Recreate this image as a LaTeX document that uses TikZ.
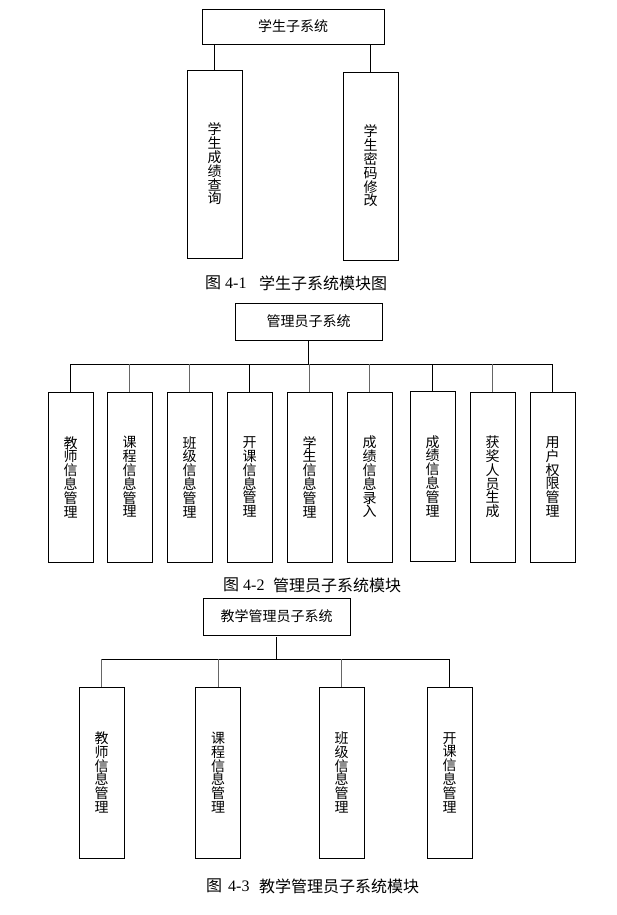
\documentclass[tikz,border=0pt]{standalone}
\usepackage{fontspec}
\newfontfamily\cjk{Noto Sans CJK SC}
\newfontfamily\capnum{Liberation Serif}
\begin{document}
\begin{tikzpicture}[x=1pt,y=-1pt,
  box/.style={draw, line width=0.8pt, inner sep=0pt, align=center,
    font=\cjk\fontsize{14}{13.8}\selectfont},
  vbox/.style={box, minimum width=45pt, minimum height=170pt},
  conn/.style={line width=0.8pt},
  gconn/.style={line width=0.8pt, draw=black!60},
  capcjk/.style={inner sep=0pt, anchor=west, font=\cjk\fontsize{16}{16}\selectfont},
  capnum/.style={inner sep=0pt, anchor=west, font=\capnum\fontsize{16}{16}\selectfont}]
\useasboundingbox (0,0) rectangle (617,915);

% ---------- Diagram 4-1 ----------
\node[box, minimum width=182pt, minimum height=35pt] (t1) at (293,26.5) {学生子系统};
\node[box, minimum width=55pt, minimum height=188pt] (l1) at (214.5,164) {学\\生\\成\\绩\\查\\询};
\node[box, minimum width=55pt, minimum height=188pt] (r1) at (370.5,166) {学\\生\\密\\码\\修\\改};
\draw[conn] (l1.north) -- (l1.north |- t1.south);
\draw[conn] (r1.north) -- (r1.north |- t1.south);
\node[capcjk] (c1a) at (205,283) {图};
\node[capnum] (c1b) at (225,283) {4-1};
\node[capcjk] (c1c) at (259,283) {学生子系统模块图};

% ---------- Diagram 4-2 ----------
\node[box, minimum width=147pt, minimum height=37pt] (t2) at (308.5,321.5) {管理员子系统};
\coordinate (bar2) at (0,364);
\node[vbox] (a1) at (70.5,477) {教\\师\\信\\息\\管\\理};
\node[vbox] (a2) at (129.5,477) {课\\程\\信\\息\\管\\理};
\node[vbox] (a3) at (189.5,477) {班\\级\\信\\息\\管\\理};
\node[vbox] (a4) at (249.5,477) {开\\课\\信\\息\\管\\理};
\node[vbox] (a5) at (309.5,477) {学\\生\\信\\息\\管\\理};
\node[vbox] (a6) at (369.5,477) {成\\绩\\信\\息\\录\\入};
\node[vbox] (a7) at (432.5,476) {成\\绩\\信\\息\\管\\理};
\node[vbox] (a8) at (492.5,477) {获\\奖\\人\\员\\生\\成};
\node[vbox] (a9) at (552.5,477) {用\\户\\权\\限\\管\\理};
\draw[conn] (t2.south) -- (t2.south |- bar2);
\draw[conn] (a1.north |- bar2) -- (a9.north |- bar2);
\draw[conn] (a1.north) -- (a1.north |- bar2);
\draw[gconn] (a2.north) -- (a2.north |- bar2);
\draw[gconn] (a3.north) -- (a3.north |- bar2);
\draw[conn] (a4.north) -- (a4.north |- bar2);
\draw[gconn] (a5.north) -- (a5.north |- bar2);
\draw[gconn] (a6.north) -- (a6.north |- bar2);
\draw[conn] (a7.north) -- (a7.north |- bar2);
\draw[gconn] (a8.north) -- (a8.north |- bar2);
\draw[conn] (a9.north) -- (a9.north |- bar2);
\node[capcjk] (c2a) at (223,585) {图};
\node[capnum] (c2b) at (243,585) {4-2};
\node[capcjk] (c2c) at (273,585) {管理员子系统模块};

% ---------- Diagram 4-3 ----------
\node[box, minimum width=147pt, minimum height=37pt] (t3) at (276.5,616.5) {教学管理员子系统};
\coordinate (bar3) at (0,659);
\node[box, minimum width=45pt, minimum height=171pt] (b1) at (101.5,772.5) {教\\师\\信\\息\\管\\理};
\node[box, minimum width=45pt, minimum height=171pt] (b2) at (218,772.5) {课\\程\\信\\息\\管\\理};
\node[box, minimum width=45pt, minimum height=171pt] (b3) at (341.5,772.5) {班\\级\\信\\息\\管\\理};
\node[box, minimum width=45pt, minimum height=171pt] (b4) at (449.5,772.5) {开\\课\\信\\息\\管\\理};
\draw[conn] ([yshift=-2pt]t3.south) -- (t3.south |- bar3);
\draw[conn] (b1.north |- bar3) -- (b4.north |- bar3);
\draw[gconn] (b1.north) -- (b1.north |- bar3);
\draw[gconn] (b2.north) -- (b2.north |- bar3);
\draw[gconn] (b3.north) -- (b3.north |- bar3);
\draw[conn] (b4.north) -- (b4.north |- bar3);
\node[capcjk] (c3a) at (206,886) {图};
\node[capnum] (c3b) at (228,886) {4-3};
\node[capcjk] (c3c) at (259,886) {教学管理员子系统模块};
\end{tikzpicture}
\end{document}
